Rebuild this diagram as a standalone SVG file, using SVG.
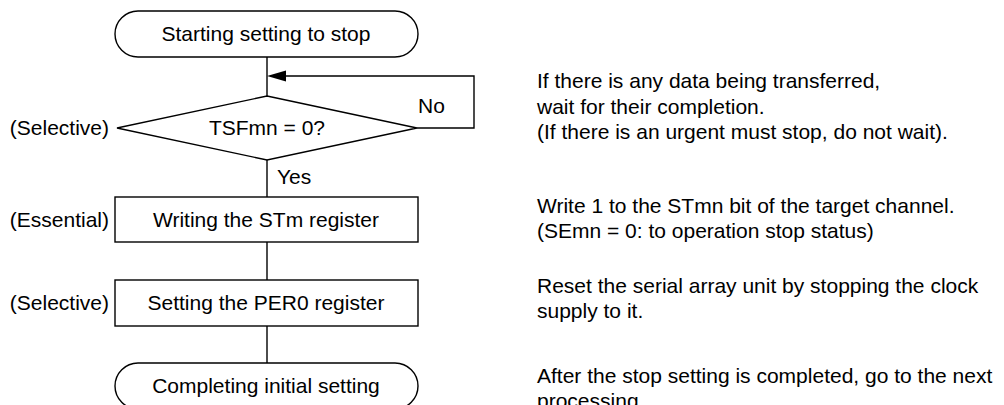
<svg xmlns="http://www.w3.org/2000/svg" width="1004" height="405" viewBox="0 0 1004 405">
<style>
text{font-family:"Liberation Sans",Arial,sans-serif;font-size:21px;fill:#000}
.c{text-anchor:middle}
.r{text-anchor:end}
.s{fill:#fff;stroke:#000;stroke-width:1.4}
.l{fill:none;stroke:#000;stroke-width:1.4}
</style>
<rect width="1004" height="405" fill="#fff"/>
<g id="connectors">
<line class="l" x1="267" y1="57" x2="267" y2="96"/>
<polyline class="l" points="417,128 474,128 474,76 284,76"/>
<polygon points="267,76 286,70.5 286,81.5" fill="#000"/>
<line class="l" x1="267" y1="160" x2="267" y2="197"/>
<line class="l" x1="267" y1="242" x2="267" y2="280"/>
<line class="l" x1="267" y1="326" x2="267" y2="363"/>
<text x="418" y="113">No</text>
<text x="277" y="184">Yes</text>
</g>
<g id="start">
<rect class="s" x="115" y="11" width="303" height="46" rx="23" ry="23"/>
<text class="c" x="266" y="41">Starting setting to stop</text>
</g>
<g id="decision">
<polygon class="s" points="267,96 417,128 267,160 117,128"/>
<text class="c" x="267" y="135">TSFmn = 0?</text>
<text class="r" x="109" y="135">(Selective)</text>
</g>
<g id="write-stm">
<rect class="s" x="115" y="197" width="303" height="45"/>
<text class="c" x="266" y="227">Writing the STm register</text>
<text class="r" x="109" y="227">(Essential)</text>
</g>
<g id="set-per0">
<rect class="s" x="115" y="280" width="303" height="46"/>
<text class="c" x="266" y="310">Setting the PER0 register</text>
<text class="r" x="109" y="310">(Selective)</text>
</g>
<g id="end">
<rect class="s" x="115" y="363" width="303" height="46" rx="23" ry="23"/>
<text class="c" x="266" y="393">Completing initial setting</text>
</g>
<g id="notes">
<text x="537" y="88">If there is any data being transferred,</text>
<text x="537" y="114">wait for their completion.</text>
<text x="537" y="139">(If there is an urgent must stop, do not wait).</text>
<text x="537" y="213">Write 1 to the STmn bit of the target channel.</text>
<text x="537" y="238">(SEmn = 0: to operation stop status)</text>
<text x="537" y="293">Reset the serial array unit by stopping the clock</text>
<text x="537" y="318">supply to it.</text>
<text x="537" y="383">After the stop setting is completed, go to the next</text>
<text x="537" y="408">processing.</text>
</g>
</svg>
